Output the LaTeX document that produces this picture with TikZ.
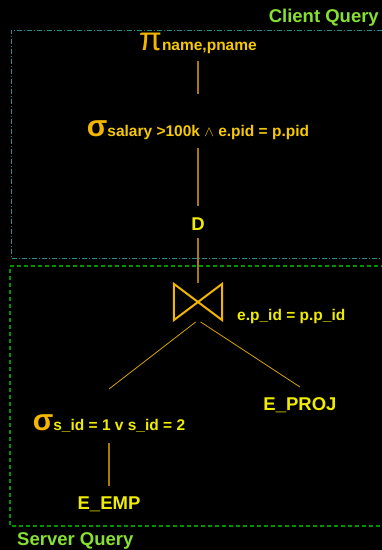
\documentclass[tikz,border=0pt]{standalone}
\usepackage{fontspec}
\setmainfont{Liberation Sans}
\usetikzlibrary{positioning}
\definecolor{opgold}{HTML}{F2B600}
\definecolor{condgold}{HTML}{F5C800}
\definecolor{relyel}{HTML}{F0EC00}
\definecolor{linkgold}{HTML}{A87C00}
\definecolor{armgold}{HTML}{D4A400}
\definecolor{tagGreen}{HTML}{86E032}
\definecolor{clientTeal}{HTML}{1F8E8E}
\definecolor{serverGreen}{HTML}{009400}
\newcommand{\opsym}[2][30]{{\fontsize{#1}{#1}\selectfont\color{opgold}#2}}

\begin{document}
\begin{tikzpicture}[x=1pt, y=-1pt, inner sep=0pt, font=\bfseries,
  tag/.style={font=\fontsize{18.5}{20}\selectfont\bfseries, text=tagGreen},
  rel/.style={font=\fontsize{18.5}{20}\selectfont\bfseries, text=relyel, anchor=base},
  cond/.style={font=\fontsize{15.5}{18}\selectfont\bfseries, anchor=base},
  link/.style={draw=linkgold, line width=1.2pt},
  arm/.style={draw=armgold, line width=0.8pt}]
\fill[black] (0,0) rectangle (382,550);
\useasboundingbox (0,0) rectangle (382,550);
% query regions
\draw[clientTeal, line width=1pt, dash pattern=on 5pt off 2pt on 1pt off 2pt]
  (392,30) -- (11,30) -- (11,258) -- (392,258);
\draw[serverGreen, line width=1.3pt, dash pattern=on 4pt off 3pt]
  (392,266) -- (10,266) -- (10,526) -- (392,526);
\node[tag, anchor=base east] (client) at (379,22) {Client Query};
\node[tag, anchor=base west] (server) at (17,545) {Server Query};
% operator tree
\node[cond, text=condgold] (proj) at (198,50) {\opsym[33]{\mdseries π}name,pname};
\node[cond, text=condgold] (sel1) at (198,136) {\opsym{σ}salary >100k $\wedge$ e.pid = p.pid};
\node[rel] (ship) at (198,230) {D};
\node[minimum width=48pt, minimum height=36pt] (join) at (198,302) {};
\draw[opgold, line width=2pt, line join=miter]
  (join.north west) -- (join.south east) -- (join.north east) -- (join.south west) -- cycle;
\node[cond, text=relyel, anchor=base west] (jcond) at (237,320) {e.p\_id = p.p\_id};
\node[cond, text=relyel] (sel2) at (109,430) {\opsym{σ}s\_id = 1 v s\_id = 2};
\node[rel] (eproj) at (300,410) {E\_PROJ};
\node[rel] (eemp) at (109,509) {E\_EMP};
\draw[link, shorten <=11pt, shorten >=42pt] (proj.base) -- (sel1.base);
\draw[link, shorten <=12pt, shorten >=24pt] (sel1.base) -- (ship.base);
\draw[link, shorten <=8pt, shorten >=1pt] (ship.base) -- (join.north);
\draw[arm, shorten <=3pt] (join.south) -- ([yshift=41pt]sel2.base);
\draw[arm, shorten <=3pt] (join.south) -- ([yshift=23pt]eproj.base);
\draw[link, shorten <=13pt, shorten >=23pt] (sel2.base) -- (eemp.base);
\end{tikzpicture}
\end{document}
